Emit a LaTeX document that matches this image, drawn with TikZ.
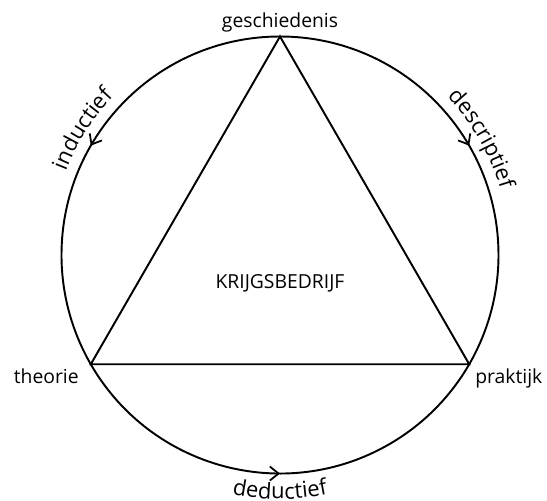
\documentclass[tikz,border=0pt]{standalone}
\usepackage{fontspec}
\setmainfont{Open Sans}
\usepackage{tikz}
\usetikzlibrary{arrows.meta, positioning, decorations.markings, decorations.text}

\def\R{4.37}

\begin{document}
\begin{tikzpicture}[
  edge/.style={line width=1.1pt},
  midarrow/.style={edge, postaction={decorate}, decoration={markings,
    mark=at position 0.5 with {\arrow{Straight Barb[length=5pt, width=8pt, line width=1pt]}}}},
  lbl/.style={font=\fontsize{11}{13}\selectfont, inner sep=1pt},
  arclbl/.style={decorate, decoration={text along path, text align=center,
    text={|\fontsize{12.5}{14}\selectfont|#1}}},
]
  \useasboundingbox (-5.6,-4.92) rectangle (5.34,5.1);

  \coordinate (g) at (90:\R);
  \coordinate (t) at (210:\R);
  \coordinate (p) at (330:\R);

  % circle in three arcs
  \draw[midarrow] (g) arc[start angle=90, end angle=210, radius=\R];
  \draw[midarrow] (g) arc[start angle=90, end angle=-30, radius=\R];
  \draw[midarrow] (t) arc[start angle=210, end angle=330, radius=\R];

  \draw[edge] (g) -- (t) -- (p) -- cycle;

  \node[lbl, above=0.05cm of g] (geschiedenis) {geschiedenis};
  \node[lbl, below left=0.04cm and 0.2cm of t] (theorie) {theorie};
  \node[lbl, below right=0.04cm and 0.08cm of p] (praktijk) {praktijk};
  \node[lbl] (krijg) at (0,-0.56) {KRIJGSBEDRIJF};

  \path[arclbl=inductief] (195:4.6) arc[start angle=195, end angle=100, radius=4.6];
  \path[arclbl=descriptief] (75:4.6) arc[start angle=75, end angle=-15, radius=4.6];
  \path[arclbl=deductief] (240:4.88) arc[start angle=240, end angle=300, radius=4.88];
\end{tikzpicture}
\end{document}
